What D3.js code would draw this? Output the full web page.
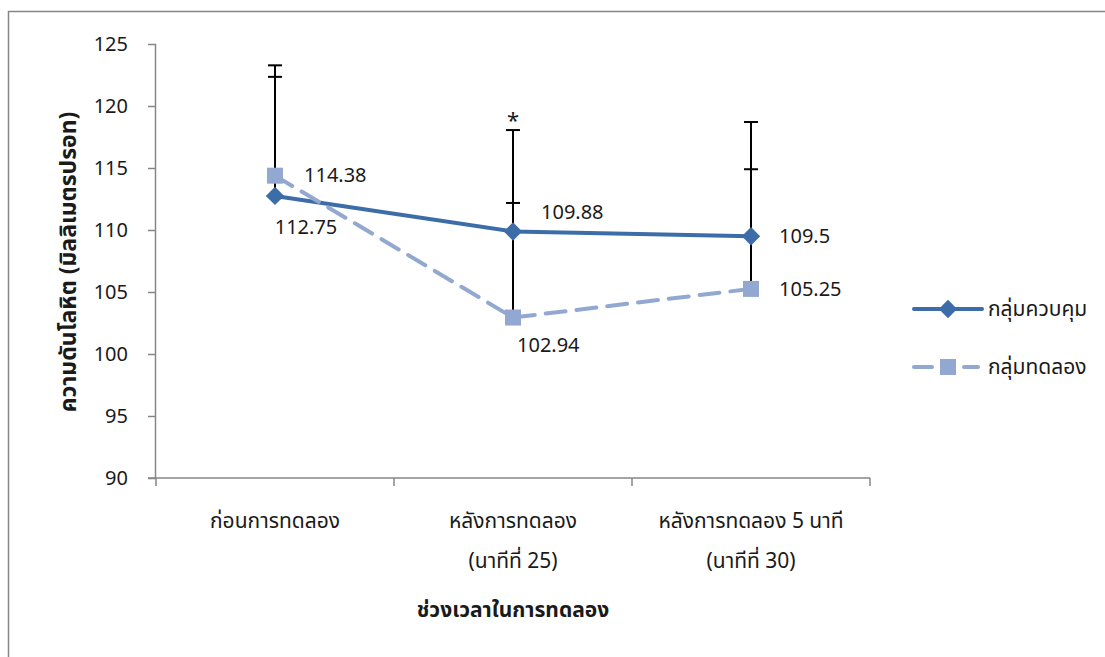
<!DOCTYPE html>
<html>
<head>
<meta charset="utf-8">
<script src="https://cdn.jsdelivr.net/npm/d3@7"></script>
<style>
  body { margin: 0; background: #fff; }
  svg text { font-family: Tahoma, "Noto Sans", "Noto Sans Thai", sans-serif; fill: #1a1a1a; }
</style>
</head>
<body>
<svg id="chart" width="1105" height="657"></svg>
<script>
const categories = [['ก่อนการทดลอง'], ['หลังการทดลอง', '(นาทีที่ 25)'], ['หลังการทดลอง 5 นาที', '(นาทีที่ 30)']];
const controlValues = [112.75, 109.88, 109.5];
const controlSD = [9.6, 2.3, 5.4];
const expValues = [114.38, 102.94, 105.25];
const expSD = [8.9, 15.12, 13.46];
const yTicks = [90, 95, 100, 105, 110, 115, 120, 125];
const seriesNames = ['กลุ่มควบคุม', 'กลุ่มทดลอง'];

const ctrlColor = '#3d6da8';
const expColor = '#93a8d0';
const axisColor = '#868686';

const svg = d3.select('#chart');

// outer frame (only top and left visible)
svg.append('path')
    .attr('d', 'M8.5,657 V11.5 H1105')
    .attr('fill', 'none')
    .attr('stroke', axisColor)
    .attr('stroke-width', 1.5);

const plot = { left: 156, right: 870, top: 44, bottom: 478 };

const x = d3.scaleBand()
    .domain(d3.range(categories.length))
    .range([plot.left, plot.right]);

const y = d3.scaleLinear()
    .domain([90, 125])
    .range([plot.bottom, plot.top]);

const cx = i => x(i) + x.bandwidth() / 2;

// y axis
const yAxis = svg.append('g')
    .attr('transform', `translate(${plot.left},0)`)
    .call(d3.axisLeft(y).tickValues(yTicks).tickSize(8).tickPadding(20));
yAxis.selectAll('path, line').attr('stroke', axisColor).attr('stroke-width', 1.5);
yAxis.select('.domain').attr('d', `M-0.5,${plot.top}V${plot.bottom}`);
yAxis.selectAll('text').attr('font-size', 20).attr('fill', '#1a1a1a')
    .style('font-family', 'Tahoma, "Noto Sans", sans-serif');

// x axis
const xAxis = svg.append('g').attr('transform', `translate(0,${plot.bottom})`);
xAxis.append('line')
    .attr('x1', plot.left - 8).attr('x2', plot.right)
    .attr('stroke', axisColor).attr('stroke-width', 1.5);
xAxis.selectAll('.tick')
    .data(d3.range(categories.length + 1))
    .join('line')
    .attr('x1', i => i < categories.length ? x(i) : x(i - 1) + x.bandwidth())
    .attr('x2', i => i < categories.length ? x(i) : x(i - 1) + x.bandwidth())
    .attr('y1', 0).attr('y2', 8)
    .attr('stroke', axisColor).attr('stroke-width', 1.5);

const catText = xAxis.selectAll('.cat')
    .data(categories)
    .join('text')
    .attr('text-anchor', 'middle')
    .attr('font-size', 21);
catText.selectAll('tspan')
    .data((d, i) => d.map(s => ({ s, i })))
    .join('tspan')
    .attr('x', d => cx(d.i))
    .attr('y', (d, j) => 50 + j * 40)
    .text(d => d.s);

// axis titles
svg.append('text')
    .attr('x', (plot.left + plot.right) / 2)
    .attr('y', 617)
    .attr('text-anchor', 'middle')
    .attr('font-size', 21)
    .attr('font-weight', 'bold')
    .text('ช่วงเวลาในการทดลอง');

svg.append('text')
    .attr('transform', 'translate(76,262) rotate(-90)')
    .attr('text-anchor', 'middle')
    .attr('font-size', 23)
    .attr('font-weight', 'bold')
    .text('ความดันโลหิต (มิลลิเมตรปรอท)');

// error bars (plus direction only)
const bars = [
    { vals: controlValues, sd: controlSD },
    { vals: expValues, sd: expSD }
];
bars.forEach(b => {
    b.vals.forEach((v, i) => {
        const g = svg.append('g').attr('stroke', '#000').attr('stroke-width', 2);
        g.append('line')
            .attr('x1', cx(i)).attr('x2', cx(i))
            .attr('y1', y(v)).attr('y2', y(v + b.sd[i]));
        g.append('line')
            .attr('x1', cx(i) - 7).attr('x2', cx(i) + 7)
            .attr('y1', y(v + b.sd[i])).attr('y2', y(v + b.sd[i]));
    });
});

// significance mark
svg.append('text')
    .attr('x', cx(1))
    .attr('y', y(expValues[1] + expSD[1]) - 2)
    .attr('text-anchor', 'middle')
    .attr('font-size', 22)
    .text('*');

const line = d3.line().x((d, i) => cx(i)).y(d => y(d));

// control series
svg.append('path')
    .datum(controlValues)
    .attr('d', line)
    .attr('fill', 'none')
    .attr('stroke', ctrlColor)
    .attr('stroke-width', 4)
    .attr('stroke-linejoin', 'round');

svg.selectAll('.ctrlMark')
    .data(controlValues)
    .join('rect')
    .attr('x', -6.5).attr('y', -6.5).attr('width', 13).attr('height', 13)
    .attr('transform', (d, i) => `translate(${cx(i)},${y(d)}) rotate(45)`)
    .attr('fill', ctrlColor);

// experiment series
svg.append('path')
    .datum(expValues)
    .attr('d', line)
    .attr('fill', 'none')
    .attr('stroke', expColor)
    .attr('stroke-width', 4)
    .attr('stroke-dasharray', '20,11')
    .attr('stroke-linecap', 'round');

svg.selectAll('.expMark')
    .data(expValues)
    .join('rect')
    .attr('x', -8).attr('y', -8).attr('width', 16).attr('height', 16)
    .attr('transform', (d, i) => `translate(${cx(i)},${y(d)})`)
    .attr('fill', expColor);

// data labels
const ctrlLabelOffset = [[31, 38, 'middle'], [28, -12, 'start'], [28, 7, 'start']];
const expLabelOffset = [[29, 6, 'start'], [4, 34, 'start'], [28, 7, 'start']];
svg.selectAll('.ctrlLabel')
    .data(controlValues)
    .join('text')
    .attr('x', (d, i) => cx(i) + ctrlLabelOffset[i][0])
    .attr('y', (d, i) => y(d) + ctrlLabelOffset[i][1])
    .attr('text-anchor', (d, i) => ctrlLabelOffset[i][2])
    .attr('font-size', 20)
    .text(d => d);
svg.selectAll('.expLabel')
    .data(expValues)
    .join('text')
    .attr('x', (d, i) => cx(i) + expLabelOffset[i][0])
    .attr('y', (d, i) => y(d) + expLabelOffset[i][1])
    .attr('text-anchor', (d, i) => expLabelOffset[i][2])
    .attr('font-size', 20)
    .text(d => d);

// legend
const legend = svg.append('g').attr('transform', 'translate(912,309)');
seriesNames.forEach((name, i) => {
    const g = legend.append('g').attr('transform', `translate(0,${i * 58})`);
    if (i === 0) {
        g.append('line').attr('x1', 2).attr('x2', 70)
            .attr('stroke', ctrlColor).attr('stroke-width', 4).attr('stroke-linecap', 'round');
        g.append('rect').attr('x', -6.5).attr('y', -6.5).attr('width', 13).attr('height', 13)
            .attr('transform', 'translate(36,0) rotate(45)').attr('fill', ctrlColor);
    } else {
        g.append('line').attr('x1', 2).attr('x2', 20)
            .attr('stroke', expColor).attr('stroke-width', 4).attr('stroke-linecap', 'round');
        g.append('line').attr('x1', 52).attr('x2', 66)
            .attr('stroke', expColor).attr('stroke-width', 4).attr('stroke-linecap', 'round');
        g.append('rect').attr('x', 28).attr('y', -8).attr('width', 16).attr('height', 16)
            .attr('fill', expColor);
    }
    g.append('text').attr('x', 76).attr('y', 7).attr('font-size', 21).text(name);
});
</script>
</body>
</html>
